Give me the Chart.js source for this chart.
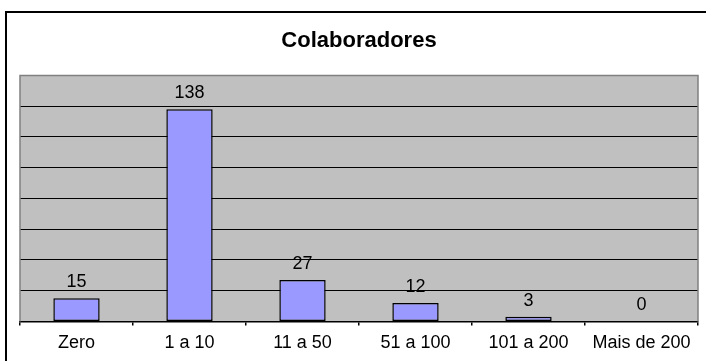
<!DOCTYPE html>
<html>
<head>
<meta charset="utf-8">
<script src="https://cdn.jsdelivr.net/npm/chart.js@4/dist/chart.umd.min.js"></script>
<style>
  html, body { margin: 0; padding: 0; background: #fff; }
  #wrap { position: relative; width: 706px; height: 361px; }
</style>
</head>
<body>
<div id="wrap"><canvas id="myChart" width="706" height="361"></canvas></div>
<script>
const categories = ["Zero", "1 a 10", "11 a 50", "51 a 100", "101 a 200", "Mais de 200"];
const colaboradores = [15, 138, 27, 12, 3, 0];
const yMax = 160;
const yStep = 20;

const FONT = "Arial, 'Liberation Sans', sans-serif";

// gray plot background + outer frame
const plotBg = {
  id: "plotBg",
  beforeDraw(chart) {
    const { ctx, chartArea: a } = chart;
    ctx.save();
    ctx.fillStyle = "#fff";
    ctx.fillRect(0, 0, chart.width, chart.height);
    ctx.strokeStyle = "#000";
    ctx.lineWidth = 2;
    ctx.beginPath();
    ctx.moveTo(6, chart.height + 2);
    ctx.lineTo(6, 12);
    ctx.lineTo(chart.width + 2, 12);
    ctx.stroke();
    ctx.fillStyle = "#c0c0c0";
    ctx.fillRect(a.left, a.top, a.right - a.left, a.bottom - a.top);
    ctx.restore();
  },
  afterDatasetsDraw(chart) {
    const { ctx, chartArea: a } = chart;
    ctx.save();
    ctx.strokeStyle = "#808080";
    ctx.lineWidth = 1.5;
    ctx.beginPath();
    ctx.moveTo(a.left, a.bottom);
    ctx.lineTo(a.left, a.top);
    ctx.lineTo(a.right, a.top);
    ctx.lineTo(a.right, a.bottom);
    ctx.stroke();
    ctx.restore();
  }
};

// value labels above bars
const valueLabels = {
  id: "valueLabels",
  afterDatasetsDraw(chart) {
    const { ctx } = chart;
    const meta = chart.getDatasetMeta(0);
    ctx.save();
    ctx.font = "18px " + FONT;
    ctx.fillStyle = "#000";
    ctx.textAlign = "center";
    ctx.textBaseline = "middle";
    meta.data.forEach((bar, i) => {
      ctx.fillText(String(colaboradores[i]), bar.x, bar.y - 16);
    });
    ctx.restore();
  }
};

new Chart(document.getElementById("myChart"), {
  type: "bar",
  data: {
    labels: categories,
    datasets: [
      {
        label: "Colaboradores",
        data: colaboradores,
        backgroundColor: "#9999ff",
        borderColor: "#000",
        borderWidth: 1.5,
        borderSkipped: false,
        barPercentage: 0.41,
        categoryPercentage: 1,
      },
    ],
  },
  options: {
    responsive: false,
    animation: false,
    devicePixelRatio: 1,
    layout: { padding: { left: 20, right: 8, top: 0, bottom: 0 } },
    plugins: {
      legend: { display: false },
      tooltip: { enabled: false },
      title: {
        display: true,
        text: "Colaboradores",
        color: "#000",
        font: { family: FONT, size: 22, weight: "bold" },
        padding: { top: 28, bottom: 21 },
      },
    },
    scales: {
      x: {
        offset: true,
        grid: {
          display: true,
          offset: true,
          drawOnChartArea: false,
          drawTicks: true,
          tickLength: 4,
          color: "#000",
          lineWidth: 1.5,
        },
        border: { display: true, color: "#000", width: 1.5 },
        ticks: {
          color: "#000",
          font: { family: FONT, size: 18 },
          padding: 7,
          maxRotation: 0,
          autoSkip: false,
        },
      },
      y: {
        min: 0,
        max: yMax,
        ticks: { display: false, stepSize: yStep },
        border: { display: false },
        grid: {
          drawTicks: false,
          lineWidth: 1,
          color: (c) => (c.tick && c.tick.value === yMax ? "#808080" : "#000"),
        },
      },
    },
  },
  plugins: [plotBg, valueLabels],
});
</script>
</body>
</html>
